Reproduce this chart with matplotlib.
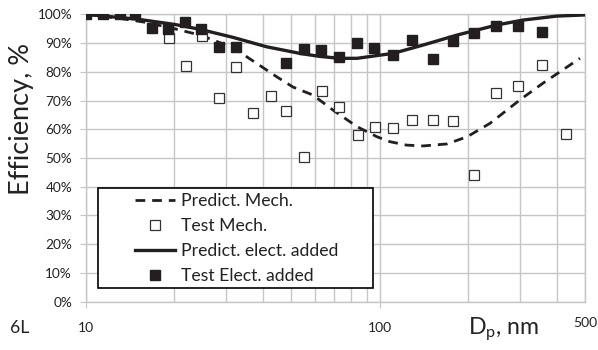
import matplotlib
matplotlib.use("Agg")
import matplotlib.pyplot as plt
import matplotlib.transforms as mtransforms
from matplotlib.patches import Rectangle

plt.rcParams['font.family'] = ['Lato', 'DejaVu Sans']

# particle diameter (nm) and efficiency (%)
pred_mech_d = [10, 13, 16, 20, 24.4, 28, 32.5, 38, 44.5, 50.6, 59.2, 69.2, 83.6, 97.7,
               108, 123, 140, 169, 198, 237, 299, 358, 479]
pred_mech_e = [100, 98.6, 97.2, 95.0, 92.8, 90.5, 87.6, 83.0, 78.3, 74.7, 71.9, 66.7, 60.9, 57.4,
               55.7, 54.5, 54.2, 54.9, 57.4, 62.1, 70.2, 76.0, 84.7]

test_mech_d = [19.2, 21.9, 24.9, 28.4, 32.4, 36.9, 42.5, 47.9, 55.1, 63.4, 72.7,
               84.0, 96.2, 111, 129, 152, 177, 209, 249, 295, 356, 431]
test_mech_e = [91.6, 82.0, 92.4, 70.8, 81.6, 65.6, 71.7, 66.4, 50.2, 73.4, 67.8,
               58.0, 60.7, 60.5, 63.2, 63.2, 63.0, 44.1, 72.7, 75.1, 82.4, 58.2]

pred_elec_d = [10, 15, 20, 24.4, 31.6, 41.2, 53.5, 62, 72.5, 83.6, 100, 110.7, 140,
               183, 250, 306, 400, 500]
pred_elec_e = [100, 98.3, 96.5, 94.8, 92.0, 88.7, 86.4, 85.4, 84.7, 84.7, 85.8, 86.4, 89.3,
               92.8, 96.3, 98.0, 99.4, 99.8]

test_elec_d = [10, 11.4, 13.05, 14.7, 16.8, 19.0, 21.7, 24.6, 28.3, 32.4, 47.9, 55.1,
               63.0, 72.5, 83.6, 95.5, 110.6, 128.4, 151.4, 177, 209, 248, 295, 356]
test_elec_e = [100, 100, 100, 100, 95.2, 95.0, 97.3, 94.9, 88.6, 88.6, 83.0, 88.0,
               87.5, 85.0, 90.0, 88.3, 85.8, 91.0, 84.4, 90.7, 93.5, 96.0, 96.0, 93.8]

grid_c = "#c6c6c6"
ink = "#231f20"
txt_c = "#222222"

fig = plt.figure(figsize=(5.98, 3.5), dpi=100)
ax = fig.add_axes([0.1438, 0.138, 0.8352, 0.821])

ax.plot(pred_mech_d, pred_mech_e, color=ink, lw=2.0, dashes=(3.5, 2.5),
        label="Predict. Mech.", zorder=3)
ax.plot(test_mech_d, test_mech_e, ls="none", marker="s", ms=7.2, mfc="white",
        mec="#333333", mew=0.9, label="Test Mech.", zorder=4)
ax.plot(pred_elec_d, pred_elec_e, color=ink, lw=2.4, label="Predict. elect. added", zorder=3)
ax.plot(test_elec_d, test_elec_e, ls="none", marker="s", ms=7.6, mfc=ink, mec=ink,
        label="Test Elect. added", zorder=4)

ax.set_xscale("log")
ax.set_xlim(10, 500)
ax.set_ylim(0, 100)

ax.set_xticks([10, 100, 500])
ax.set_xticklabels(["10", "100", "500"])
ax.set_xticks([20, 30, 40, 50, 60, 70, 80, 90, 200, 300, 400], minor=True)
ax.xaxis.set_minor_formatter(plt.NullFormatter())
ax.set_yticks(range(0, 101, 10))
ax.set_yticklabels([f"{v}%" for v in range(0, 101, 10)])

ax.grid(True, which="both", color=grid_c, lw=1.0, zorder=0)
ax.tick_params(axis="x", which="major", length=4.5, color=grid_c, pad=10, labelsize=10, labelcolor=txt_c)
ax.tick_params(axis="x", which="minor", length=0)
ax.tick_params(axis="y", length=4, color=grid_c, pad=6, labelsize=9.8, labelcolor=txt_c)
ax.xaxis.get_major_ticks()[2].tick1line.set_visible(False)
lbl500 = ax.get_xticklabels()[2]
lbl500.set_transform(lbl500.get_transform() +
                     mtransforms.ScaledTranslation(0, 5 / 100, fig.dpi_scale_trans))
for s in ax.spines.values():
    s.set_color(grid_c)
    s.set_linewidth(1.0)

ax.set_ylabel("Efficiency, %", fontsize=19.5, color=txt_c)
ax.yaxis.set_label_coords(-0.104, 0.636)
fig.text(10 / 598, 1 - 328 / 350, "6L", fontsize=12.7, va="center", ha="left", color=txt_c)
fig.text(504 / 598, 1 - 330 / 350, r"D$_\mathregular{p}$, nm", fontsize=16.7,
         va="center", ha="center", color=txt_c)

# legend box
ax.add_patch(Rectangle((0.024, 0.048), 0.551, 0.348, transform=ax.transAxes,
                       facecolor="white", edgecolor="black", lw=1.2, zorder=5))
leg = ax.legend(loc="upper left", bbox_to_anchor=(0.087, 0.397), frameon=False,
                fontsize=12.7, handlelength=2.27, handletextpad=0.34, labelspacing=0.52,
                borderpad=0.3, borderaxespad=0)
leg.set_zorder(6)
for t in leg.get_texts():
    t.set_color(txt_c)

fig.savefig("out.png", dpi=100)
